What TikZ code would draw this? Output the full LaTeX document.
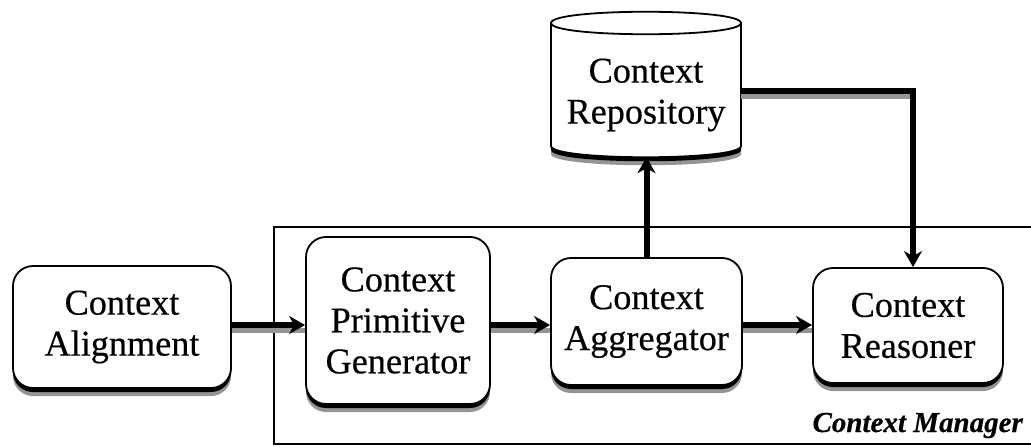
\documentclass[tikz,border=0pt]{standalone}
\usepackage{fontspec}
\setmainfont[RawFeature={embolden=0.4}]{Liberation Serif}
\usetikzlibrary{shadows,arrows.meta,calc}
\tikzset{
  softshadow/.style={
    drop shadow={shadow xshift=0pt,shadow yshift=-8pt,fill=black!42,opacity=1},
    drop shadow={shadow xshift=0pt,shadow yshift=-4pt,fill=black,opacity=1}},
  labeltext/.style={align=center,inner sep=0pt,font=\fontsize{36.2}{41}\selectfont},
  procbox/.style={draw,line width=1.8pt,fill=white,rounded corners=20pt,labeltext,softshadow},
  storeline/.style={line width=1.8pt},
  flow/.style={line width=6pt,-{Stealth[length=16pt,width=18pt,inset=5pt]}},
  shadowed/.style={preaction={draw=black!42,line width=5pt,-,transform canvas={yshift=-5pt}}},
  flowshadow/.style={draw=black!42,line width=5pt,transform canvas={yshift=-5pt}},
  framebox/.style={line width=1.2pt},
  caption/.style={font=\fontsize{29}{32}\selectfont\bfseries\itshape,inner sep=0pt,anchor=base east}
}
\begin{document}
\begin{tikzpicture}[x=1pt,y=-1pt]
\useasboundingbox (0,0) rectangle (1031,447);
\coordinate (ftl) at (274,227);
\coordinate (ftr) at (1031,227);
\coordinate (fbl) at (274,444);
\coordinate (fbr) at (1031,444);
\coordinate (flowy) at (0,325);
\coordinate (repoy) at (0,91);
\draw[framebox] (ftr) -- (ftl) -- (fbl) -- (fbr);
\node[procbox,minimum width=218pt,minimum height=122pt] (align) at (122,327) {Context\\Alignment};
\node[procbox,minimum width=184pt,minimum height=167pt] (prim) at (398,320.5) {Context\\Primitive\\Generator};
\node[procbox,minimum width=191pt,minimum height=127pt] (aggr) at (646.5,321.5) {Context\\Aggregator};
\node[procbox,minimum width=190pt,minimum height=115pt] (reas) at (908,325.5) {Context\\Reasoner};
% cylinder
\node[minimum width=190pt,minimum height=145pt,inner sep=0pt] (repo) at (646,84.5) {};
\fill[black!42] (551,31) -- (551,154) .. controls (551,169) and (741,169) .. (741,154) -- (741,31) -- cycle;
\fill[black] (551,27) -- (551,150) .. controls (551,165) and (741,165) .. (741,150) -- (741,27) -- cycle;
\filldraw[storeline,fill=white] (551,23) -- (551,146) .. controls (551,161) and (741,161) .. (741,146) -- (741,23)
  .. controls (741,8) and (551,8) .. (551,23) -- cycle;
\draw[storeline] (551,23) .. controls (551,38) and (741,38) .. (741,23);
\node[labeltext] (repolabel) at (646,95) {Context\\Repository};
\node[caption] (mgr) at (1023,432) {Context Manager};
\draw[flow,shadowed] (align.east |- flowy) -- (prim.west |- flowy);
\draw[flow,shadowed] (prim.east |- flowy) -- (aggr.west |- flowy);
\draw[flow,shadowed] (aggr.east |- flowy) -- (reas.west |- flowy);
\draw[flow] (aggr.north) -- (aggr.north |- repo.south);
\coordinate (reastop) at ($(reas.north)+(5,0)$);
\draw[flowshadow] (repo.east |- repoy) -- (reastop |- repoy);
\draw[flow] (repo.east |- repoy) -| (reastop);
\end{tikzpicture}
\end{document}
